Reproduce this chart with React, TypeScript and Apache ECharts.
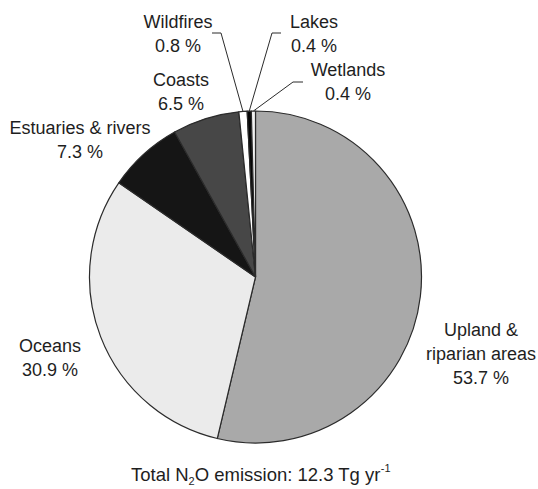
import React, { useEffect, useRef } from "react";
import * as echarts from "echarts";

// ---- data ----
const categories = [
  "Upland &\nriparian areas",
  "Oceans",
  "Estuaries & rivers",
  "Coasts",
  "Wildfires",
  "Lakes",
  "Wetlands",
];
const shares = [53.7, 30.9, 7.3, 6.5, 0.8, 0.4, 0.4];
const totalEmission = "12.3";

// ---- styling / layout (not data) ----
const sliceColors = ["#a9a9a9", "#ebebeb", "#151515", "#474747", "#ffffff", "#050505", "#f2f2f2"];
const labelCenters: [number, number][] = [
  [481, 354],
  [50, 358],
  [80, 140],
  [181, 92],
  [178, 34],
  [314, 34],
  [348, 82],
];
// elbow & end of leader lines for the thin slices (null = no line)
const leaderEnds: ([number, number][] | null)[] = [
  null,
  null,
  null,
  null,
  [[221, 33], [212, 33]],
  [[272, 33], [281, 33]],
  [[293, 82], [303, 82]],
];

const FONT = "'Liberation Sans', Arial, sans-serif";
const FS = 18;
const CX = 255.5;
const CY = 277;
const R = 166;

function midPoint(i: number): [number, number] {
  const sum = shares.reduce((a, b) => a + b, 0);
  let before = 0;
  for (let k = 0; k < i; k++) before += shares[k];
  const mid = ((before + shares[i] / 2) / sum) * Math.PI * 2;
  return [CX + R * Math.sin(mid), CY - R * Math.cos(mid)];
}

export default function App() {
  const ref = useRef<HTMLDivElement>(null);

  useEffect(() => {
    if (!ref.current) return;
    const chart = echarts.init(ref.current, undefined, { renderer: "svg" });
    const option: any = {
      animation: false,
      backgroundColor: "#ffffff",
      title: {
        text: `Total N{sub|2}O emission: ${totalEmission} Tg yr{sup|-1}`,
        left: 131,
        top: 462,
        padding: 0,
        textStyle: {
          fontFamily: FONT,
          fontSize: 18.5,
          fontWeight: "normal",
          color: "#1e1e1e",
          lineHeight: 24,
          rich: {
            sub: { fontFamily: FONT, fontSize: 11, color: "#1e1e1e", verticalAlign: "bottom", lineHeight: 10 },
            sup: { fontFamily: FONT, fontSize: 11, color: "#1e1e1e", verticalAlign: "top", lineHeight: 15 },
          },
        },
      },
      series: [
        {
          type: "pie",
          center: [CX, CY],
          radius: R,
          startAngle: 90,
          clockwise: true,
          avoidLabelOverlap: false,
          emphasis: { disabled: true },
          itemStyle: { borderColor: "#2b2b2b", borderWidth: 1.2 },
          label: {
            show: true,
            position: "outside",
            fontFamily: FONT,
            fontSize: FS,
            lineHeight: 24,
            color: "#1e1e1e",
            align: "center",
            formatter: (p: any) => `${p.name}\n${Number(p.value).toFixed(1)} %`,
          },
          labelLine: {
            show: true,
            length: 10,
            length2: 10,
            lineStyle: { color: "#2b2b2b", width: 1 },
          },
          labelLayout: (p: any) => {
            const i = p.dataIndex;
            const [x, y] = labelCenters[i];
            const res: any = { x, y, align: "center", verticalAlign: "middle" };
            const ends = leaderEnds[i];
            if (ends) {
              res.labelLinePoints = [midPoint(i), ends[0], ends[1]];
            }
            return res;
          },
          data: categories.map((name, i) => ({
            name,
            value: shares[i],
            itemStyle: { color: sliceColors[i] },
            labelLine: { show: leaderEnds[i] !== null },
          })),
        },
      ],
    };
    chart.setOption(option);
    return () => chart.dispose();
  }, []);

  return (
    <div
      ref={ref}
      style={{ position: "absolute", left: 0, top: 0, width: 538, height: 489, background: "#fff" }}
    />
  );
}
